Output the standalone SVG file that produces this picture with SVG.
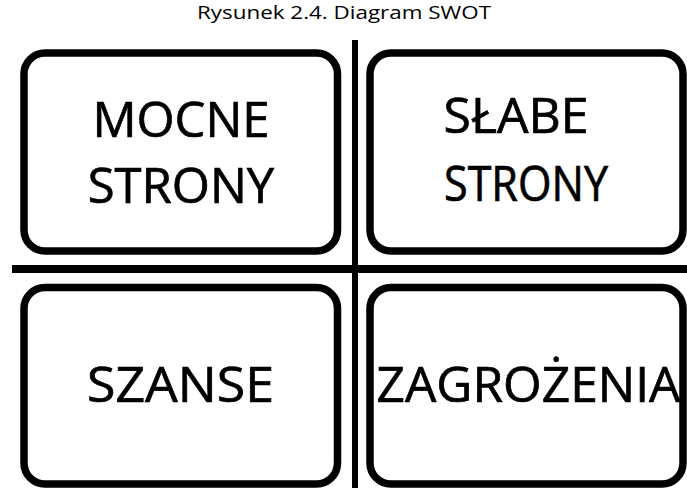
<svg xmlns="http://www.w3.org/2000/svg" width="687" height="488" viewBox="0 0 687 488">
<style>
.box{fill:#fff;stroke:#000;stroke-width:7.5}
.line{stroke:#000;fill:none}
.big{font-family:"Open Sans","Liberation Sans",sans-serif;font-size:49px;fill:#000;stroke:#000;stroke-width:0.7;text-anchor:middle}
.title{font-family:"Open Sans","Liberation Sans",sans-serif;font-size:18px;fill:#000;text-anchor:middle}
</style>
<rect x="0" y="0" width="687" height="488" fill="#fff"/>
<text class="title" x="344" y="19" textLength="294" lengthAdjust="spacingAndGlyphs">Rysunek 2.4. Diagram SWOT</text>
<g id="connectors">
<line class="line" x1="355" y1="40" x2="355" y2="488" stroke-width="6"/>
<line class="line" x1="12" y1="269" x2="687" y2="269" stroke-width="8"/>
</g>
<g id="mocne">
<rect class="box" x="24" y="53" width="313.5" height="198" rx="21"/>
<text class="big" x="181" y="137">MOCNE</text>
<text class="big" x="181" y="203">STRONY</text>
</g>
<g id="slabe">
<rect class="box" x="370" y="53" width="313" height="198" rx="21"/>
<text class="big" x="516" y="133" font-size="46" textLength="145" lengthAdjust="spacingAndGlyphs">SŁABE</text>
<text class="big" x="526" y="201" font-size="46" textLength="164" lengthAdjust="spacingAndGlyphs">STRONY</text>
</g>
<g id="szanse">
<rect class="box" x="24" y="287.5" width="313.5" height="196.5" rx="21"/>
<text class="big" x="180.5" y="402" textLength="187" lengthAdjust="spacingAndGlyphs">SZANSE</text>
</g>
<g id="zagrozenia">
<rect class="box" x="370" y="287.5" width="313" height="196.5" rx="21"/>
<text class="big" x="528.5" y="402" textLength="304" lengthAdjust="spacingAndGlyphs">ZAGROŻENIA</text>
</g>
</svg>
